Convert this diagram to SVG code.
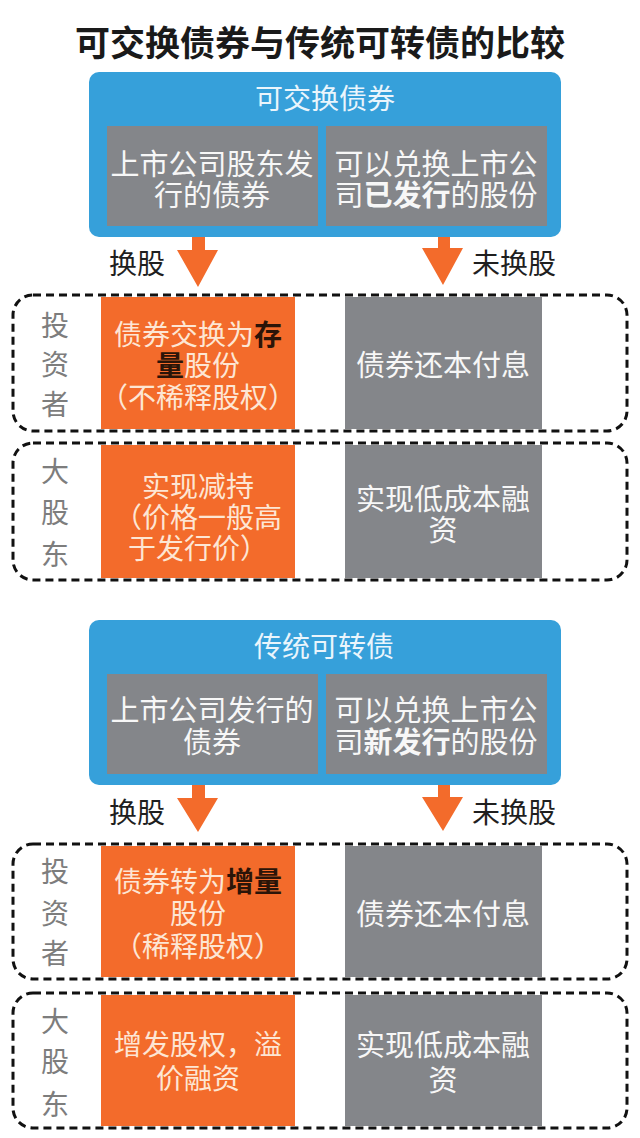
<svg xmlns="http://www.w3.org/2000/svg" width="640" height="1138" viewBox="0 0 640 1138">
<style>
text{font-family:"Noto Sans CJK SC","Noto Sans",sans-serif;text-anchor:middle;dominant-baseline:central}
.title{font-size:35px;font-weight:bold;fill:#1a1a1a}
.blue{fill:#36a0da}
.bt{font-size:28px;fill:#eaf5fc}
.gray{fill:#84868a}
.gt{font-size:29px;fill:#f7f7f7}
.org{fill:#f36b2b}
.ot{font-size:28px;fill:#fde6d4}
.dk{font-weight:bold;fill:#2b1408}
.wb{font-weight:bold}
.lab{font-size:28px;fill:#7d7d7d}
.arr{font-size:28px;fill:#1f1f1f}
.dash{fill:none;stroke:#111;stroke-width:3;stroke-dasharray:8 5}
.ar{fill:#f36b2b}
</style>
<rect width="640" height="1138" fill="#ffffff"/>
<text class="title" x="320" y="40">可交换债券与传统可转债的比较</text>

<g id="eb-header">
<rect class="blue" x="89" y="72" width="472" height="165" rx="10"/>
<text class="bt" x="325" y="97">可交换债券</text>
</g>
<g id="eb-issuer">
<rect class="gray" x="107" y="126" width="211" height="100"/>
<text class="gt" x="212" y="162">上市公司股东发<tspan x="212" dy="31">行的债券</tspan></text>
</g>
<g id="eb-shares">
<rect class="gray" x="326" y="126" width="221" height="100"/>
<text class="gt" x="436" y="162">可以兑换上市公<tspan x="436" dy="31">司<tspan class="wb">已发行</tspan>的股份</tspan></text>
</g>

<g id="connectors">
<polygon class="ar" points="192,237 205,237 205,250 218,250 198,287 177,250 192,250"/>
<polygon class="ar" points="438,237 450,237 450,248 463,248 443,285 422,248 438,248"/>
<polygon class="ar" points="192,785 205,785 205,798 218,798 198,832 177,798 192,798"/>
<polygon class="ar" points="438,785 450,785 450,797 463,797 443,831 422,797 438,797"/>
<text class="arr" x="137" y="262">换股</text>
<text class="arr" x="514" y="262">未换股</text>
<text class="arr" x="137" y="811">换股</text>
<text class="arr" x="514" y="811">未换股</text>
</g>

<g id="eb-investor">
<rect class="org" x="101" y="297" width="194" height="132"/>
<rect class="gray" x="345" y="297" width="197" height="132"/>
<text class="lab" x="55" y="324">投<tspan x="55" dy="39">资</tspan><tspan x="55" dy="40">者</tspan></text>
<text class="ot" x="198" y="333">债券交换为<tspan class="dk">存</tspan><tspan x="198" dy="31"><tspan class="dk">量</tspan>股份</tspan><tspan x="198" dy="32">（不稀释股权）</tspan></text>
<text class="gt" x="443" y="363">债券还本付息</text>
<rect class="dash" x="13" y="295" width="614" height="136" rx="20"/>
</g>

<g id="eb-holder">
<rect class="org" x="101" y="445" width="194" height="133"/>
<rect class="gray" x="345" y="445" width="197" height="133"/>
<text class="lab" x="55" y="470">大<tspan x="55" dy="41">股</tspan><tspan x="55" dy="42">东</tspan></text>
<text class="ot" x="198" y="485">实现减持<tspan x="198" dy="31">（价格一般高</tspan><tspan x="198" dy="31">于发行价）</tspan></text>
<text class="gt" x="443" y="497">实现低成本融<tspan x="443" dy="31">资</tspan></text>
<rect class="dash" x="13" y="443" width="614" height="137" rx="20"/>
</g>

<g id="cb-header">
<rect class="blue" x="89" y="620" width="472" height="165" rx="10"/>
<text class="bt" x="324" y="645">传统可转债</text>
</g>
<g id="cb-issuer">
<rect class="gray" x="107" y="674" width="211" height="100"/>
<text class="gt" x="212" y="708">上市公司发行的<tspan x="212" dy="32">债券</tspan></text>
</g>
<g id="cb-shares">
<rect class="gray" x="326" y="674" width="221" height="100"/>
<text class="gt" x="436" y="708">可以兑换上市公<tspan x="436" dy="32">司<tspan class="wb">新发行</tspan>的股份</tspan></text>
</g>

<g id="cb-investor">
<rect class="org" x="101" y="846" width="194" height="131"/>
<rect class="gray" x="345" y="846" width="197" height="131"/>
<text class="lab" x="55" y="870">投<tspan x="55" dy="42">资</tspan><tspan x="55" dy="40">者</tspan></text>
<text class="ot" x="198" y="880">债券转为<tspan class="dk">增量</tspan><tspan x="198" dy="32">股份</tspan><tspan x="198" dy="33">（稀释股权）</tspan></text>
<text class="gt" x="443" y="912">债券还本付息</text>
<rect class="dash" x="13" y="844" width="614" height="135" rx="20"/>
</g>

<g id="cb-holder">
<rect class="org" x="101" y="995" width="194" height="131"/>
<rect class="gray" x="345" y="995" width="197" height="131"/>
<text class="lab" x="55" y="1020">大<tspan x="55" dy="40">股</tspan><tspan x="55" dy="43">东</tspan></text>
<text class="ot" x="198" y="1043">增发股权，溢<tspan x="198" dy="34">价融资</tspan></text>
<text class="gt" x="443" y="1043">实现低成本融<tspan x="443" dy="35">资</tspan></text>
<rect class="dash" x="13" y="993" width="614" height="135" rx="20"/>
</g>
</svg>
